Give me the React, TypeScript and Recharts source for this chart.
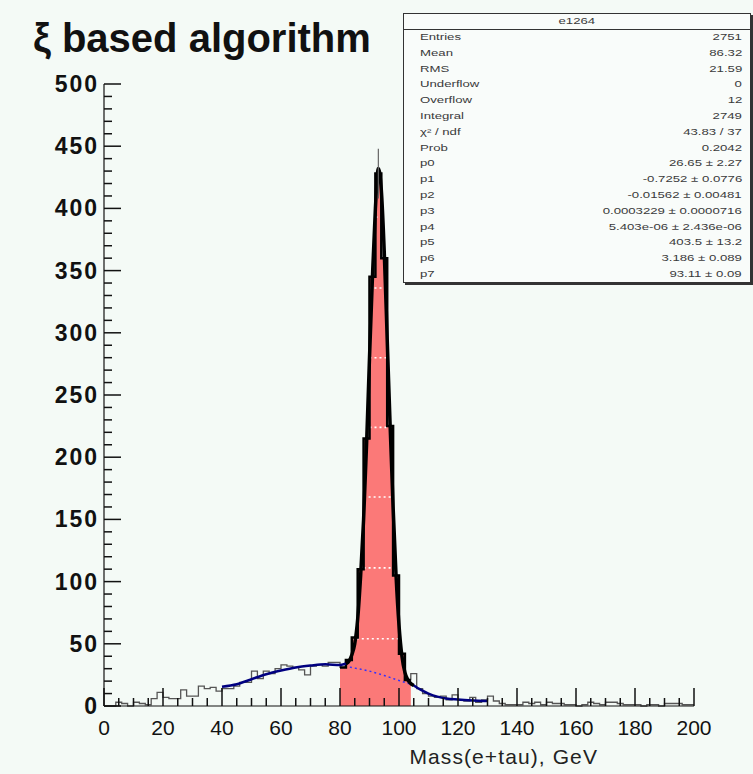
import {
  ComposedChart, Line, Area, XAxis, YAxis, Scatter, ErrorBar, ReferenceLine,
} from 'recharts'

// e+tau invariant mass, 2 GeV bins from 0 to 200 GeV
const BIN_WIDTH = 2
const COUNTS = [
  0, 0, 3, 2, 0, 3, 2, 1, 6, 11,
  7, 6, 6, 13, 8, 8, 16, 14, 15, 12,
  14, 14, 16, 19, 19, 28, 22, 28, 26, 30,
  33, 32, 31, 29, 25, 32, 33, 32, 35, 35,
  31, 37, 55, 110, 215, 345, 428, 360, 225, 105,
  42, 21, 26, 14, 10, 8, 7, 8, 5, 9,
  5, 4, 7, 3, 5, 8, 4, 2, 1, 1,
  1, 3, 2, 3, 1, 3, 2, 2, 1, 1,
  0, 1, 3, 2, 1, 3, 3, 2, 1, 1,
  1, 0, 1, 1, 0, 2, 2, 2, 1, 1,
]
// bins filled as the Z peak window
const PEAK_FROM = 80
const PEAK_TO = 104
const PEAK_BIN = 46
const PEAK_ERR = 20
// dotted hatch rows inside the filled window
const HATCH_LEVELS = [54, 111, 168, 224, 280, 336, 393]

// fit: signal + background over the peak
const FIT_M = [82, 83, 84, 85, 86, 87, 88, 89, 90, 91, 92, 93, 94, 95, 96, 97, 98, 99, 100, 101, 102, 103, 104, 105]
const FIT_N = [34, 36, 41, 50, 70, 105, 150, 210, 280, 345, 400, 432, 415, 365, 295, 225, 160, 105, 65, 40, 27, 21, 18, 16.5]
// fit outside the peak
const SIDE_LEFT_M = [40, 45, 50, 55, 60, 65, 70, 75, 80, 83]
const SIDE_LEFT_N = [15.5, 17.5, 21.5, 25.5, 28.5, 31, 32.5, 33.5, 33, 35]
const SIDE_RIGHT_M = [103, 104, 105, 107, 110, 113, 116, 120, 125, 130]
const SIDE_RIGHT_N = [21, 18, 16.5, 13.5, 10, 7.5, 6, 5.2, 4.5, 4]
// background component under the peak
const BKG_M = [80, 85, 90, 95, 100, 104]
const BKG_N = [32.5, 30.5, 28, 24.5, 20.5, 17.5]

const X_LABELS = [0, 20, 40, 60, 80, 100, 120, 140, 160, 180, 200]
const Y_LABELS = [0, 50, 100, 150, 200, 250, 300, 350, 400, 450, 500]
const X_MAX = 200
const Y_MAX = 500
const X_STEP = 5
const Y_STEP = 10

const STAT_TITLE = 'e1264'
const STAT_LABELS = ['Entries', 'Mean', 'RMS', 'Underflow', 'Overflow', 'Integral', 'χ² / ndf', 'Prob',
  'p0', 'p1', 'p2', 'p3', 'p4', 'p5', 'p6', 'p7']
const STAT_VALUES = ['2751', '86.32', '21.59', '0', '12', '2749', '43.83 / 37', '0.2042',
  '26.65 ± 2.27', '-0.7252 ± 0.0776', '-0.01562 ± 0.00481', '0.0003229 ± 0.0000716',
  '5.403e-06 ± 2.436e-06', '403.5 ± 13.2', '3.186 ± 0.089', '93.11 ± 0.09']

const BG = '#f4faf6'
const FONT = '"Liberation Sans", Arial, Helvetica, sans-serif'
const W = 753
const H = 774

const histData = [
  ...COUNTS.map((n, i) => ({ m: i * BIN_WIDTH, n })),
  { m: COUNTS.length * BIN_WIDTH, n: COUNTS[COUNTS.length - 1] },
]
const peakData = histData.filter((d) => d.m >= PEAK_FROM && d.m < PEAK_TO)
peakData.push({ m: PEAK_TO, n: peakData[peakData.length - 1].n })

// horizontal extent of the fill at a given height
const hatchRows = HATCH_LEVELS.map((level) => {
  const inside = peakData.slice(0, -1).filter((d) => d.n >= level)
  return { level, from: inside[0].m, to: inside[inside.length - 1].m + BIN_WIDTH }
})

const pairs = (ms: number[], ns: number[]) => ms.map((m, i) => ({ m, n: ns[i] }))
const fitData = pairs(FIT_M, FIT_N)
const leftData = pairs(SIDE_LEFT_M, SIDE_LEFT_N)
const rightData = pairs(SIDE_RIGHT_M, SIDE_RIGHT_N)
const bkgData = pairs(BKG_M, BKG_N)
const errData = [{ m: PEAK_BIN * BIN_WIDTH + BIN_WIDTH / 2, n: COUNTS[PEAK_BIN], err: PEAK_ERR }]

// tick anchors on the axes; each one is drawn as a short inward stroke
const xTickPts: { m: number; n: number; len: number }[] = []
for (let v = 0; v <= X_MAX; v += X_STEP) xTickPts.push({ m: v, n: 0, len: X_LABELS.includes(v) ? 18 : 8 })
const yTickPts: { m: number; n: number; len: number }[] = []
for (let v = 0; v <= Y_MAX; v += Y_STEP) yTickPts.push({ m: 0, n: v, len: Y_LABELS.includes(v) ? 17 : 8 })

function XTickMark(props: any) {
  const { cx, cy, payload } = props
  return <path d={`M${cx},${cy}V${cy - payload.len}`} stroke="#111" strokeWidth={1.5} fill="none" />
}

function YTickMark(props: any) {
  const { cx, cy, payload } = props
  return <path d={`M${cx},${cy}H${cx + payload.len}`} stroke="#111" strokeWidth={1.5} fill="none" />
}

function XLabel(props: any) {
  const { x, y, payload } = props
  return (
    <text x={x} y={y + 29} textAnchor="middle" fontFamily={FONT} fontSize={21} fill="#111">
      {payload.value}
    </text>
  )
}

function YLabel(props: any) {
  const { x, y, payload } = props
  return (
    <text x={x - 5} y={y + 8} textAnchor="end" fontFamily={FONT} fontSize={23}
      fontWeight="bold" letterSpacing={2} fill="#111">
      {payload.value}
    </text>
  )
}

// stats text is set small and stretched wide
const wide = (origin: string) => ({
  display: 'inline-block', transform: 'scaleX(1.55)', transformOrigin: origin,
})

function StatsBox() {
  return (
    <div style={{
      position: 'absolute', left: 403, top: 13, width: 346, height: 268,
      background: '#f9fcfa', border: '1px solid #333', boxShadow: '2px 2px 0 #333',
      fontFamily: FONT, fontSize: 8.5, color: '#3a3a3a',
    }}>
      <div style={{ height: 15, borderBottom: '1px solid #333', textAlign: 'center', lineHeight: '15px' }}>
        <span style={wide('center')}>{STAT_TITLE}</span>
      </div>
      {STAT_LABELS.map((label, i) => (
        <div key={label} style={{ display: 'flex', justifyContent: 'space-between', height: 15.8, lineHeight: '15.8px', padding: '0 8px 0 16px' }}>
          <span style={wide('left')}>{label}</span>
          <span style={wide('right')}>{STAT_VALUES[i]}</span>
        </div>
      ))}
    </div>
  )
}

const frameLine = { stroke: '#555', strokeWidth: 1 }
const axisLine = { stroke: '#111', strokeWidth: 1.2 }

export default function App() {
  return (
    <div style={{ position: 'absolute', left: 0, top: 0, width: W, height: H, background: BG, overflow: 'hidden' }}>
      <div style={{
        position: 'absolute', left: 33, top: 18, fontFamily: FONT, fontSize: 40,
        fontWeight: 'bold', lineHeight: '40px', color: '#111', whiteSpace: 'nowrap',
      }}>
        ξ based algorithm
      </div>
      <ComposedChart width={W} height={H} margin={{ top: 84, right: 59, bottom: 38, left: 44 }}>
        <XAxis dataKey="m" type="number" domain={[0, X_MAX]} ticks={X_LABELS} interval={0}
          tick={<XLabel />} tickLine={false} tickSize={0} tickMargin={0} height={30}
          axisLine={axisLine} />
        <YAxis type="number" domain={[0, Y_MAX]} ticks={Y_LABELS} interval={0}
          tick={<YLabel />} tickLine={false} tickSize={0} tickMargin={0} width={60}
          axisLine={axisLine} />
        {/* top and right sides of the frame */}
        <XAxis xAxisId="top" orientation="top" dataKey="m" type="number" domain={[0, X_MAX]}
          tick={false} tickLine={false} height={0} axisLine={frameLine} />
        <YAxis yAxisId="right" orientation="right" type="number" domain={[0, Y_MAX]}
          tick={false} tickLine={false} width={0} axisLine={frameLine} />
        <Scatter data={xTickPts} dataKey="n" shape={<XTickMark />} isAnimationActive={false} />
        <Scatter data={yTickPts} dataKey="n" shape={<YTickMark />} isAnimationActive={false} />
        <Area data={peakData} dataKey="n" type="stepAfter" fill="#ff2a2a" fillOpacity={0.62}
          stroke="none" isAnimationActive={false} />
        {hatchRows.map((r) => (
          <ReferenceLine key={`h${r.level}`} ifOverflow="visible" stroke="#ffffff" strokeWidth={1.6}
            strokeDasharray="2 3" segment={[{ x: r.from, y: r.level }, { x: r.to, y: r.level }]} />
        ))}
        <Line data={histData} dataKey="n" type="stepAfter" stroke="#555" strokeWidth={1.3}
          dot={false} isAnimationActive={false} />
        <Line data={bkgData} dataKey="n" type="monotone" stroke="#3030ff" strokeWidth={1.4}
          strokeDasharray="2 3" dot={false} isAnimationActive={false} />
        <Line data={peakData} dataKey="n" type="stepAfter" stroke="#000" strokeWidth={2.5}
          dot={false} isAnimationActive={false} />
        <Line data={leftData} dataKey="n" type="monotone" stroke="#000080" strokeWidth={2.5}
          dot={false} isAnimationActive={false} />
        <Line data={rightData} dataKey="n" type="monotone" stroke="#000080" strokeWidth={2.5}
          dot={false} isAnimationActive={false} />
        <Line data={fitData} dataKey="n" type="monotone" stroke="#000" strokeWidth={3.5}
          dot={false} isAnimationActive={false} />
        <Scatter data={errData} dataKey="n" shape={() => <g />} isAnimationActive={false}>
          <ErrorBar dataKey="err" direction="y" width={0} stroke="#666" strokeWidth={1.2} />
        </Scatter>
      </ComposedChart>
      <div style={{
        position: 'absolute', right: 155, top: 746, fontFamily: FONT, fontSize: 21,
        lineHeight: '21px', letterSpacing: 1.1, color: '#222', whiteSpace: 'nowrap',
      }}>
        Mass(e+tau), GeV
      </div>
      <StatsBox />
    </div>
  )
}
